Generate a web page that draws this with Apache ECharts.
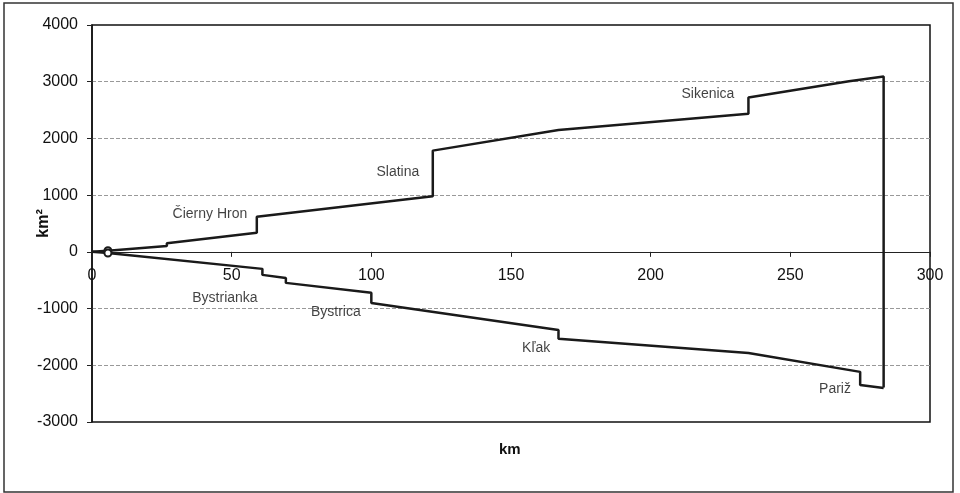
<!DOCTYPE html>
<html>
<head>
<meta charset="utf-8">
<script src="https://cdn.jsdelivr.net/npm/echarts@6/dist/echarts.min.js"></script>
<style>html,body{margin:0;padding:0;background:#fff}#c{width:960px;height:493px}</style>
</head>
<body>
<div id="c"></div>
<script>
// Upper profile (right-bank tributaries), [km, km²]
var upperKm   = [0, 5.7, 26.8, 26.8, 59, 59, 122, 122, 167, 235, 235, 271, 283.4, 283.4];
var upperArea = [0, 20, 105, 150, 335, 617, 980, 1785, 2150, 2435, 2720, 3010, 3090, -2390];
// Lower profile (left-bank tributaries), [km, km²]
var lowerKm   = [0, 5.7, 61, 61, 69.4, 69.4, 100, 100, 167, 167, 235, 275, 275, 283.4];
var lowerArea = [0, -20, -300, -406, -460, -547, -723, -900, -1376, -1534, -1785, -2116, -2346, -2399];
// Tributary labels
var labelNames = ['Čierny Hron', 'Slatina', 'Sikenica', 'Bystrianka', 'Bystrica', 'Kľak', 'Pariž'];
var labelKm    = [42.2, 109.5, 220.5, 47.6, 87.3, 159, 266];
var labelArea  = [670, 1411, 2786, -811, -1058, -1693, -2416];
// Axis ticks
var xTicks = [0, 50, 100, 150, 200, 250, 300];
var yTicks = [-3000, -2000, -1000, 0, 1000, 2000, 3000, 4000];

function pairs(xs, ys, markIdx) {
  return xs.map(function (x, i) {
    var item = { value: [x, ys[i]] };
    if (i === markIdx) { item.symbol = 'emptyCircle'; item.symbolSize = 7; }
    return item;
  });
}

var chart = echarts.init(document.getElementById('c'));
var FONT = '"Liberation Sans", Arial, sans-serif';
var GRID = { left: 92, right: 30, top: 25, bottom: 71 };
var plotH = 493 - GRID.top - GRID.bottom;
var yMin = yTicks[0], yMax = yTicks[yTicks.length - 1];
// distance from the bottom of the plot up to the zero line
var zeroOffset = plotH * (0 - yMin) / (yMax - yMin);

chart.setOption({
  animation: false,
  backgroundColor: '#fff',
  textStyle: { fontFamily: FONT },
  grid: { left: GRID.left, right: GRID.right, top: GRID.top, bottom: GRID.bottom, show: true, borderColor: '#111', borderWidth: 1.5 },
  xAxis: {
    type: 'value',
    min: xTicks[0], max: xTicks[xTicks.length - 1], interval: 50,
    offset: -zeroOffset,
    axisLine: { onZero: false, lineStyle: { color: '#222', width: 1 } },
    axisTick: { show: true, length: 5, lineStyle: { color: '#222' } },
    axisLabel: { color: '#111', fontSize: 16, margin: 16, fontFamily: FONT, formatter: function (v) { return String(v); } },
    splitLine: { show: false }
  },
  yAxis: {
    type: 'value',
    min: yMin, max: yMax, interval: 1000,
    name: 'km²', nameLocation: 'middle', nameGap: 40, nameMoveOverlap: false,
    nameTextStyle: { fontSize: 16, fontWeight: 'bold', color: '#111', fontFamily: FONT },
    axisLine: { show: true, lineStyle: { color: '#111', width: 1.5 } },
    axisTick: { show: true, length: 5, lineStyle: { color: '#222' } },
    axisLabel: { color: '#111', fontSize: 16, margin: 14, fontFamily: FONT, formatter: function (v) { return String(v); } },
    splitLine: { show: true, showMinLine: false, showMaxLine: false, lineStyle: { color: '#999', type: [4, 2], width: 1 } }
  },
  graphic: [
    { type: 'rect', shape: { x: 4, y: 3, width: 949, height: 489 }, style: { fill: 'none', stroke: '#333', lineWidth: 1.5 }, z: 100 },
    { type: 'text', left: 511 - 12, top: 442, style: { text: 'km', font: 'bold 15px ' + FONT, fill: '#111' } }
  ],
  series: [
    {
      type: 'line', data: pairs(upperKm, upperArea, 1), symbol: 'none', showSymbol: true,
      lineStyle: { color: '#1a1a1a', width: 2.5 }, itemStyle: { color: '#1a1a1a', borderColor: '#1a1a1a', borderWidth: 1.5 },
      z: 5
    },
    {
      type: 'line', data: pairs(lowerKm, lowerArea, 1), symbol: 'none', showSymbol: true,
      lineStyle: { color: '#1a1a1a', width: 2.5 }, itemStyle: { color: '#1a1a1a', borderColor: '#1a1a1a', borderWidth: 1.5 },
      z: 5
    },
    {
      type: 'scatter', symbolSize: 0, silent: true,
      data: labelNames.map(function (n, i) { return { name: n, value: [labelKm[i], labelArea[i]] }; }),
      label: { show: true, position: 'inside', formatter: '{b}', color: '#111', fontSize: 14, fontFamily: FONT }
    }
  ]
});
</script>
</body>
</html>
